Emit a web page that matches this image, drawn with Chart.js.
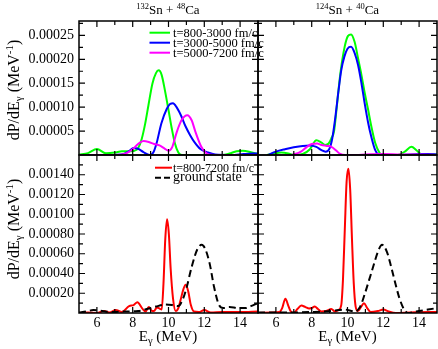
<!DOCTYPE html>
<html>
<head>
<meta charset="utf-8">
<script src="https://cdn.jsdelivr.net/npm/chart.js@4/dist/chart.umd.min.js"></script>
<style>
  html, body { margin: 0; padding: 0; background: #fff; }
  #wrap { position: relative; width: 438px; height: 349px; overflow: hidden; }
  #wrap canvas, #wrap svg { position: absolute; left: 0; top: 0; }
  svg text { font-family: 'Liberation Serif', 'Times New Roman', serif; fill: #000; white-space: pre; }
</style>
</head>
<body>
<div id="wrap">
  <canvas id="tl" width="438" height="349"></canvas>
  <canvas id="tr" width="438" height="349"></canvas>
  <canvas id="bl" width="438" height="349"></canvas>
  <canvas id="br" width="438" height="349"></canvas>
  <svg width="438" height="349">
    <text x="168" y="13.5" text-anchor="middle" font-size="13"><tspan font-size="8.5" dy="-5">132</tspan><tspan dy="5">Sn + </tspan><tspan font-size="8.5" dy="-5">48</tspan><tspan dy="5">Ca</tspan></text>
    <text x="347.5" y="13.5" text-anchor="middle" font-size="13"><tspan font-size="8.5" dy="-5">124</tspan><tspan dy="5">Sn + </tspan><tspan font-size="8.5" dy="-5">40</tspan><tspan dy="5">Ca</tspan></text>

    <text transform="translate(19,90) rotate(-90)" text-anchor="middle" font-size="16">dP/dE<tspan font-size="11" dy="3">γ</tspan><tspan dy="-3"> (MeV</tspan><tspan font-size="11" dy="-6">-1</tspan><tspan dy="6">)</tspan></text>
    <text transform="translate(19,229) rotate(-90)" text-anchor="middle" font-size="16">dP/dE<tspan font-size="11" dy="3">γ</tspan><tspan dy="-3"> (MeV</tspan><tspan font-size="11" dy="-6">-1</tspan><tspan dy="6">)</tspan></text>

    <text x="168" y="341" text-anchor="middle" font-size="15">E<tspan font-size="10.5" dy="3">γ</tspan><tspan dy="-3"> (MeV)</tspan></text>
    <text x="347.5" y="341" text-anchor="middle" font-size="15">E<tspan font-size="10.5" dy="3">γ</tspan><tspan dy="-3"> (MeV)</tspan></text>

    <line x1="149.5" y1="32.7" x2="170" y2="32.7" stroke="#00ff00" stroke-width="2"/>
    <text x="173" y="36.5" font-size="12.5">t=800-3000 fm/c</text>
    <line x1="149.5" y1="42.7" x2="170" y2="42.7" stroke="#0000ff" stroke-width="2"/>
    <text x="173" y="46.5" font-size="12.5">t=3000-5000 fm/c</text>
    <line x1="149.5" y1="52.7" x2="170" y2="52.7" stroke="#ff00ff" stroke-width="2"/>
    <text x="173" y="56.5" font-size="12.5">t=5000-7200 fm/c</text>

    <line x1="155" y1="167.7" x2="172" y2="167.7" stroke="#ff0000" stroke-width="2"/>
    <text x="173" y="171.5" font-size="12">t=800-7200 fm/c</text>
    <line x1="155" y1="177.7" x2="172" y2="177.7" stroke="#000" stroke-width="2" stroke-dasharray="6 3"/>
    <text x="173" y="181" font-size="14">ground state</text>
  </svg>
</div>
<script>
// energy axis
const xMajor = [6, 8, 10, 12, 14];
const xMinor = [7, 9, 11, 13];

// top panels y ticks
const yTopMajor = [5e-5, 1e-4, 1.5e-4, 2e-4, 2.5e-4];
const yTopMinor = [2.5e-5, 7.5e-5, 1.25e-4, 1.75e-4, 2.25e-4, 2.75e-4];
// bottom panels y ticks
const yBotMajor = [2e-4, 4e-4, 6e-4, 8e-4, 1e-3, 1.2e-3, 1.4e-3];
const yBotMinor = [1e-4, 3e-4, 5e-4, 7e-4, 9e-4, 1.1e-3, 1.3e-3, 1.5e-3];

// 132Sn + 48Ca, time windows
const eGreenL = [5.0, 5.5, 6.0, 6.5, 7.0, 7.4, 7.8, 8.1, 8.3, 8.5, 8.7, 8.88, 9.1, 9.3, 9.45, 9.62, 9.8, 10.0, 10.18, 10.36, 10.55, 10.75, 13.0, 13.4, 13.8, 14.15, 14.6, 15.0];
const greenL = [1e-6, 4e-6, 1.25e-5, 3.5e-6, 5e-6, 8e-6, 8e-6, 9e-6, 1.4e-5, 3.3e-5, 6.6e-5, 1.04e-4, 1.49e-4, 1.71e-4, 1.77e-4, 1.67e-4, 1.35e-4, 9.4e-5, 5.6e-5, 2.4e-5, 5e-6, 0, 0, 3e-6, 8e-6, 9e-6, 6e-6, 2e-6];
const eBlueL = [7.0, 7.5, 7.8, 8.05, 8.3, 8.6, 8.95, 9.15, 9.33, 9.6, 9.9, 10.1, 10.25, 10.45, 10.73, 10.95, 11.2, 11.45, 11.8, 12.15, 12.6, 13.5, 14.2, 14.7, 15.0];
const blueL = [0, 2e-6, 8e-6, 1.45e-5, 1.3e-5, 6e-6, 0, 5e-6, 2.4e-5, 6.6e-5, 9.6e-5, 1.07e-4, 1.08e-4, 1.0e-4, 8.0e-5, 6.0e-5, 4.2e-5, 2.7e-5, 1.2e-5, 6e-6, 1e-6, 0, 2e-6, 3e-6, 3e-6];
const eMagentaL = [5.5, 7.0, 7.6, 8.0, 8.3, 8.6, 8.9, 9.2, 9.5, 9.8, 10.0, 10.2, 10.47, 10.75, 11.05, 11.3, 11.5, 11.85, 12.25, 12.6, 15.0];
const magentaL = [0, 0, 3e-6, 1.2e-5, 2.3e-5, 2.9e-5, 2.7e-5, 2.3e-5, 2.0e-5, 1.3e-5, 9e-6, 1.6e-5, 4.9e-5, 7.4e-5, 8.3e-5, 7.2e-5, 4.9e-5, 1.6e-5, 1e-6, 0, 0];

// 124Sn + 40Ca, time windows
const eGreenR = [5.5, 5.9, 6.3, 6.7, 7.0, 7.5, 7.9, 8.26, 8.55, 8.75, 8.95, 9.1, 9.25, 9.4, 9.6, 9.84, 10.03, 10.2, 10.4, 10.6, 10.78, 10.96, 11.15, 11.33, 11.55, 11.8, 12.0, 12.8, 13.2, 13.57, 13.85, 14.1, 14.5, 15.0];
const greenR = [0, 3e-6, 5e-6, 3e-6, 0, 2e-6, 1.2e-5, 3.1e-5, 2.6e-5, 2.1e-5, 2.4e-5, 3.5e-5, 5.0e-5, 1.0e-4, 1.7e-4, 2.26e-4, 2.49e-4, 2.52e-4, 2.36e-4, 2.0e-4, 1.67e-4, 1.3e-4, 9.5e-5, 6.0e-5, 2.5e-5, 4e-6, 0, 0, 7e-6, 1.7e-5, 1.0e-5, 2e-6, 1e-6, 1e-6];
const eBlueR = [5.55, 6.0, 6.5, 7.0, 7.5, 7.9, 8.26, 8.55, 8.78, 9.0, 9.15, 9.3, 9.5, 9.65, 9.82, 10.0, 10.2, 10.4, 10.59, 10.78, 10.96, 11.15, 11.33, 11.55, 11.75, 13.0, 14.0, 14.5, 15.0];
const blueR = [0, 7e-6, 1.2e-5, 1.6e-5, 1.9e-5, 2.0e-5, 1.7e-5, 1.0e-5, 7e-6, 1.4e-5, 3.5e-5, 7.3e-5, 1.35e-4, 1.77e-4, 2.05e-4, 2.22e-4, 2.26e-4, 2.13e-4, 1.88e-4, 1.5e-4, 1.08e-4, 6.8e-5, 3.8e-5, 1.0e-5, 1e-6, 0, 2e-6, 2e-6, 1e-6];
const eMagentaR = [6.9, 7.4, 7.7, 8.0, 8.3, 8.55, 8.85, 9.1, 9.35, 9.56, 9.9, 10.5, 11.0, 12.0, 13.0, 14.0, 15.0];
const magentaR = [0, 7e-6, 1.6e-5, 2.3e-5, 2.4e-5, 2.1e-5, 1.9e-5, 1.7e-5, 1.0e-5, 3e-6, 0, 0, 1e-6, 2e-6, 1e-6, 1e-6, 0];

// whole time and ground state, 132Sn + 48Ca
const eRedL = [5.0, 5.5, 6.0, 6.4, 6.7, 7.05, 7.4, 7.8, 8.05, 8.26, 8.54, 8.72, 8.9, 9.05, 9.19, 9.35, 9.5, 9.62, 9.72, 9.82, 9.92, 10.02, 10.12, 10.25, 10.4, 10.55, 10.7, 10.83, 10.96, 11.1, 11.25, 11.42, 11.7, 12.0, 12.36, 13.0, 14.0, 15.0];
const redL = [0, 5e-6, 0, 2e-5, 5e-6, 3e-5, 1e-5, 7e-5, 8e-5, 1.1e-4, 4.5e-5, 1.5e-5, 6e-5, 2.5e-5, 2e-5, 5.5e-5, 4.5e-5, 3.5e-5, 3.0e-4, 7.5e-4, 9.5e-4, 8.0e-4, 4.5e-4, 1.5e-4, 2e-5, 5e-5, 1.5e-4, 2.4e-4, 2.85e-4, 2.2e-4, 8e-5, 1.5e-5, 1e-5, 3e-5, 5e-6, 1e-5, 1e-5, 1.5e-5];
const eGroundL = [5.0, 5.4, 5.8, 6.3, 6.9, 7.5, 8.3, 8.9, 9.3, 9.8, 10.2, 10.55, 10.8, 11.0, 11.3, 11.6, 11.85, 12.05, 12.3, 12.55, 12.8, 13.05, 13.4, 13.9, 14.3, 14.6, 15.0];
const groundL = [5e-6, 1.5e-5, 3e-5, 2e-5, 1e-5, 1.5e-5, 2e-5, 4.5e-5, 6.5e-5, 8.5e-5, 8e-5, 7e-5, 1.4e-4, 2.5e-4, 4.7e-4, 6.4e-4, 6.9e-4, 6.5e-4, 5.0e-4, 2.6e-4, 9e-5, 5e-5, 6e-5, 5e-5, 5e-5, 7e-5, 1.0e-4];

// whole time and ground state, 124Sn + 40Ca
const eRedR = [5.0, 5.8, 6.2, 6.35, 6.53, 6.7, 6.85, 7.0, 7.2, 7.42, 7.65, 7.85, 8.0, 8.17, 8.35, 8.54, 8.8, 9.1, 9.3, 9.5, 9.65, 9.75, 9.85, 9.95, 10.05, 10.15, 10.25, 10.35, 10.45, 10.58, 10.75, 10.92, 11.1, 11.3, 11.7, 12.0, 12.3, 12.7, 13.5, 14.5, 15.0];
const redR = [0, 5e-6, 1e-5, 5e-5, 1.45e-4, 7e-5, 1e-5, 0, 4e-5, 7.5e-5, 6e-5, 4.5e-5, 5e-5, 6.5e-5, 4e-5, 1.5e-5, 2e-5, 4e-5, 1.5e-5, 3e-5, 8e-5, 3.5e-4, 8.5e-4, 1.33e-3, 1.46e-3, 1.25e-3, 7.5e-4, 3.0e-4, 7e-5, 2e-5, 6e-5, 1.0e-4, 5e-5, 1e-5, 2e-5, 3.5e-5, 1.5e-5, 0, 5e-6, 1e-5, 1e-5];
const eGroundR = [5.0, 6.0, 7.0, 8.0, 9.1, 9.84, 10.4, 10.7, 10.96, 11.2, 11.42, 11.7, 11.93, 12.2, 12.45, 12.7, 12.9, 13.15, 13.38, 13.7, 14.0, 14.5, 15.0];
const groundR = [5e-6, 5e-6, 5e-6, 1e-5, 2e-5, 3.5e-5, 1.5e-5, 6e-5, 1.9e-4, 3.3e-4, 4.6e-4, 6.2e-4, 6.9e-4, 6.2e-4, 4.6e-4, 2.8e-4, 1.5e-4, 4e-5, 0, 1e-5, 2e-5, 3.5e-5, 5e-5];

const FONT = 'Liberation Serif';
Chart.defaults.font.family = FONT;

function pts(xs, ys) {
  return xs.map((x, i) => ({ x: x, y: ys[i] }));
}

function line(xs, ys, color, order, dash) {
  return {
    data: pts(xs, ys),
    borderColor: color,
    borderWidth: 2,
    borderDash: dash || [],
    order: order,
    pointRadius: 0,
    fill: false,
    cubicInterpolationMode: 'monotone'
  };
}

// box with inward ticks on all four sides
const framePlugin = {
  id: 'frame',
  afterDatasetsDraw(chart, args, opts) {
    const ctx = chart.ctx;
    const a = chart.chartArea;
    const x = chart.scales.x, y = chart.scales.y;
    ctx.save();
    ctx.strokeStyle = '#000';
    ctx.lineWidth = 1.2;
    ctx.beginPath();
    function xt(list, len) {
      list.forEach(v => {
        const p = x.getPixelForValue(v);
        ctx.moveTo(p, a.bottom); ctx.lineTo(p, a.bottom - len);
        ctx.moveTo(p, a.top); ctx.lineTo(p, a.top + len);
      });
    }
    function yt(list, len) {
      list.forEach(v => {
        const p = y.getPixelForValue(v);
        ctx.moveTo(a.left, p); ctx.lineTo(a.left + len, p);
        ctx.moveTo(a.right, p); ctx.lineTo(a.right - len, p);
      });
    }
    xt(xMajor, 6); xt(xMinor, 4);
    yt(opts.yMajor, 6); yt(opts.yMinor, 4);
    ctx.stroke();
    ctx.lineWidth = 1.5;
    ctx.strokeRect(a.left, a.top, a.right - a.left, a.bottom - a.top);
    ctx.restore();
  }
};

function panel(id, padding, datasets, yMax, yMajor, yMinor, showY, showX) {
  new Chart(document.getElementById(id), {
    type: 'line',
    data: { datasets: datasets },
    options: {
      responsive: false,
      animation: false,
      events: [],
      layout: { padding: padding },
      plugins: {
        legend: { display: false },
        tooltip: { enabled: false },
        frame: { yMajor: yMajor, yMinor: yMinor }
      },
      scales: {
        x: {
          type: 'linear',
          min: 5,
          max: 15,
          display: showX,
          grid: { display: false, drawTicks: false },
          border: { display: false },
          ticks: { color: '#000', font: { size: 14 }, padding: 2, maxRotation: 0 },
          afterBuildTicks: s => { s.ticks = xMajor.map(v => ({ value: v })); },
          afterFit: s => { s.height = showX ? 20 : 0; s.paddingLeft = 0; s.paddingRight = 0; }
        },
        y: {
          type: 'linear',
          min: 0,
          max: yMax,
          display: showY,
          grid: { display: false, drawTicks: false },
          border: { display: false },
          ticks: { color: '#000', font: { size: 14 }, padding: 5, callback: v => v.toFixed(5) },
          afterBuildTicks: s => { s.ticks = yMajor.map(v => ({ value: v })); },
          afterFit: s => { s.width = showY ? 79 : 0; s.paddingTop = 0; s.paddingBottom = 0; }
        }
      }
    },
    plugins: [framePlugin]
  });
}

panel('tl', { left: 0, top: 21, right: 180, bottom: 194 }, [
  line(eGreenL, greenL, '#00ff00', 3),
  line(eBlueL, blueL, '#0000ff', 2),
  line(eMagentaL, magentaL, '#ff00ff', 1)
], 2.8e-4, yTopMajor, yTopMinor, true, false);

panel('tr', { left: 258, top: 21, right: 1, bottom: 194 }, [
  line(eGreenR, greenR, '#00ff00', 3),
  line(eBlueR, blueR, '#0000ff', 2),
  line(eMagentaR, magentaR, '#ff00ff', 1)
], 2.8e-4, yTopMajor, yTopMinor, false, false);

panel('bl', { left: 0, top: 155, right: 180, bottom: 16 }, [
  line(eRedL, redL, '#ff0000', 2),
  line(eGroundL, groundL, '#000000', 1, [7, 4])
], 1.6e-3, yBotMajor, yBotMinor, true, true);

panel('br', { left: 258, top: 155, right: 1, bottom: 16 }, [
  line(eRedR, redR, '#ff0000', 2),
  line(eGroundR, groundR, '#000000', 1, [7, 4])
], 1.6e-3, yBotMajor, yBotMinor, false, true);
</script>
</body>
</html>
